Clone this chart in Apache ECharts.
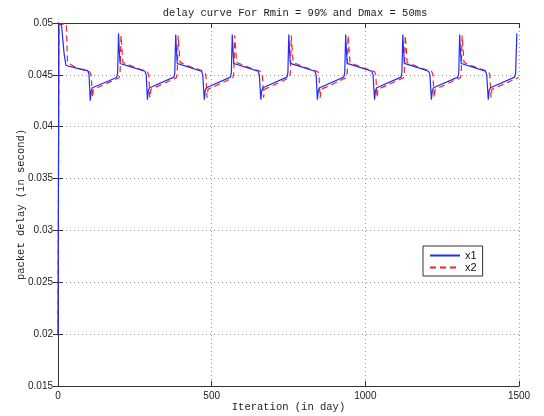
<!DOCTYPE html>
<html>
<head>
<meta charset="utf-8">
<script src="https://cdn.jsdelivr.net/npm/echarts@6/dist/echarts.min.js"></script>
<style>
html,body{margin:0;padding:0;background:#fff;}
#chart{width:544px;height:416px;}
</style>
</head>
<body>
<div id="chart"></div>
<script>
const titleText = 'delay curve For Rmin = 99% and Dmax = 50ms';
const xName = 'Iteration (in day)';
const yName = 'packet delay (in second)';
const seriesNames = ['x1', 'x2'];

const x1X = [0, 3, 11, 20, 26, 60, 97, 101, 105, 108, 112, 191, 194, 197,
  199, 202, 240, 283, 287, 291, 294, 298, 377, 380, 383,
  385, 388, 426, 467, 471, 476, 479, 483, 561, 564, 567,
  569, 572, 610, 651, 655, 660, 663, 667, 745, 748, 751,
  753, 756, 795, 836, 840, 844, 847, 851, 930, 933, 936,
  938, 941, 980, 1021, 1025, 1030, 1033, 1037, 1116, 1119, 1122,
  1124, 1127, 1166, 1206, 1210, 1215, 1218, 1222, 1301, 1304, 1307,
  1309, 1312, 1350, 1391, 1395, 1400, 1403, 1407, 1486, 1489, 1493];
const x1Y = [0.0199, 0.0499, 0.0499, 0.0470, 0.0459, 0.04565, 0.0454, 0.0450, 0.0425, 0.0435, 0.04375, 0.04475, 0.0452, 0.0490,
  0.0476, 0.0461, 0.04575, 0.04535, 0.0450, 0.0426, 0.0435, 0.04375, 0.04478, 0.0452, 0.0489,
  0.0476, 0.0461, 0.04575, 0.04535, 0.0450, 0.0426, 0.0435, 0.04375, 0.04478, 0.0452, 0.0489,
  0.0476, 0.0461, 0.04575, 0.04535, 0.0450, 0.0426, 0.0435, 0.04375, 0.04478, 0.0452, 0.0489,
  0.0476, 0.0461, 0.04575, 0.04535, 0.0450, 0.0426, 0.0435, 0.04375, 0.04478, 0.0452, 0.0489,
  0.0476, 0.0461, 0.04575, 0.04535, 0.0450, 0.0426, 0.0435, 0.04375, 0.04478, 0.0452, 0.0489,
  0.0476, 0.0461, 0.04575, 0.04535, 0.0450, 0.0426, 0.0435, 0.04375, 0.04478, 0.0452, 0.0489,
  0.0476, 0.0461, 0.04575, 0.04535, 0.0450, 0.0426, 0.0435, 0.04375, 0.04478, 0.0452, 0.0490];

const x2X = [0, 3, 27, 31, 60, 103, 108, 112, 115, 119, 199, 202, 205,
  208, 211, 250, 291, 295, 299, 302, 306, 385, 388, 391,
  394, 397, 436, 477, 481, 485, 488, 492, 569, 572, 575,
  578, 581, 620, 661, 665, 669, 672, 676, 753, 756, 759,
  762, 765, 804, 845, 849, 853, 856, 860, 938, 941, 944,
  947, 950, 989, 1030, 1034, 1038, 1041, 1045, 1124, 1127, 1130,
  1133, 1136, 1175, 1216, 1220, 1224, 1227, 1231, 1309, 1312, 1315,
  1318, 1321, 1360, 1401, 1405, 1409, 1412, 1416, 1499];
const x2Y = [0.0199, 0.0499, 0.0499, 0.0462, 0.04565, 0.0453, 0.0450, 0.0428, 0.0436, 0.04372, 0.04472, 0.0452, 0.0488,
  0.0475, 0.0462, 0.04572, 0.04532, 0.0450, 0.0428, 0.0436, 0.04372, 0.04472, 0.0452, 0.0488,
  0.0475, 0.0462, 0.04572, 0.04532, 0.0450, 0.0428, 0.0436, 0.04372, 0.04472, 0.0452, 0.0488,
  0.0475, 0.0462, 0.04572, 0.04532, 0.0450, 0.0428, 0.0436, 0.04372, 0.04472, 0.0452, 0.0488,
  0.0475, 0.0462, 0.04572, 0.04532, 0.0450, 0.0428, 0.0436, 0.04372, 0.04472, 0.0452, 0.0488,
  0.0475, 0.0462, 0.04572, 0.04532, 0.0450, 0.0428, 0.0436, 0.04372, 0.04472, 0.0452, 0.0488,
  0.0475, 0.0462, 0.04572, 0.04532, 0.0450, 0.0428, 0.0436, 0.04372, 0.04472, 0.0452, 0.0488,
  0.0475, 0.0462, 0.04572, 0.04532, 0.0450, 0.0428, 0.0436, 0.04372, 0.04475];

const xMin = 0, xMax = 1500, xStep = 500;
const yMin = 0.015, yMax = 0.05, yStep = 0.005;

const pairs = (xs, ys) => xs.map((x, i) => [x, ys[i]]);

const mono = 'Liberation Mono';
const sans = 'Liberation Sans';
const frame = '#333';
const gridCol = '#9a9a9a';

const chart = echarts.init(document.getElementById('chart'), null, {renderer: 'canvas'});
chart.setOption({
  animation: false,
  backgroundColor: '#fff',
  title: {
    text: titleText,
    left: 290, top: 3, textAlign: 'center',
    textStyle: {fontFamily: mono, fontSize: 10.5, fontWeight: 'normal', color: '#222'}
  },
  grid: {left: 58, right: 25, top: 23, bottom: 30, containLabel: false, outerBoundsMode: 'none'},
  legend: {
    left: 423, top: 246,
    orient: 'vertical',
    data: seriesNames,
    itemWidth: 30, itemHeight: 10, itemGap: 1,
    padding: [4, 6, 3, 6],
    borderColor: '#333', borderWidth: 1, borderRadius: 0,
    backgroundColor: '#fff',
    itemStyle: {opacity: 0},
    textStyle: {fontFamily: sans, fontSize: 11, color: '#111'}
  },
  xAxis: [{
    type: 'value', min: xMin, max: xMax, interval: xStep,
    name: xName, nameLocation: 'middle', nameGap: 16, nameMoveOverlap: false,
    nameTextStyle: {fontFamily: mono, fontSize: 10.5, color: '#222'},
    axisLine: {show: true, lineStyle: {color: frame, width: 1}},
    axisTick: {show: true, inside: true, length: 5, lineStyle: {color: frame}},
    axisLabel: {fontFamily: sans, fontSize: 10, color: '#222', margin: 5, formatter: v => String(v)},
    splitLine: {show: true, lineStyle: {color: gridCol, type: [1, 3], width: 1}}
  }, {
    type: 'value', min: xMin, max: xMax, interval: xStep, position: 'top',
    axisLine: {show: true, lineStyle: {color: frame, width: 1}},
    axisTick: {show: true, inside: true, length: 5, lineStyle: {color: frame}},
    axisLabel: {show: false}, splitLine: {show: false}
  }],
  yAxis: [{
    type: 'value', min: yMin, max: yMax, interval: yStep,
    name: yName, nameLocation: 'middle', nameGap: 31, nameRotate: 90, nameMoveOverlap: false,
    nameTextStyle: {fontFamily: mono, fontSize: 10.5, color: '#222'},
    axisLine: {show: true, lineStyle: {color: frame, width: 1}},
    axisTick: {show: true, inside: true, length: 5, lineStyle: {color: frame}},
    axisLabel: {fontFamily: sans, fontSize: 10, color: '#222', margin: 5},
    splitLine: {show: true, lineStyle: {color: gridCol, type: [1, 3], width: 1}}
  }, {
    type: 'value', min: yMin, max: yMax, interval: yStep, position: 'right',
    axisLine: {show: true, lineStyle: {color: frame, width: 1}},
    axisTick: {show: true, inside: true, length: 5, lineStyle: {color: frame}},
    axisLabel: {show: false}, splitLine: {show: false}
  }],
  series: [{
    name: seriesNames[0], type: 'line', xAxisIndex: 0, yAxisIndex: 0,
    data: pairs(x1X, x1Y),
    symbol: 'none', showSymbol: false,
    lineStyle: {color: '#1f2bff', width: 1.2},
    itemStyle: {color: '#1f2bff'},
    z: 3
  }, {
    name: seriesNames[1], type: 'line', xAxisIndex: 0, yAxisIndex: 0,
    data: pairs(x2X, x2Y),
    symbol: 'none', showSymbol: false,
    lineStyle: {color: '#ff2020', width: 1.2, type: [6, 4]},
    itemStyle: {color: '#ff2020'},
    z: 2
  }]
});
</script>
</body>
</html>
